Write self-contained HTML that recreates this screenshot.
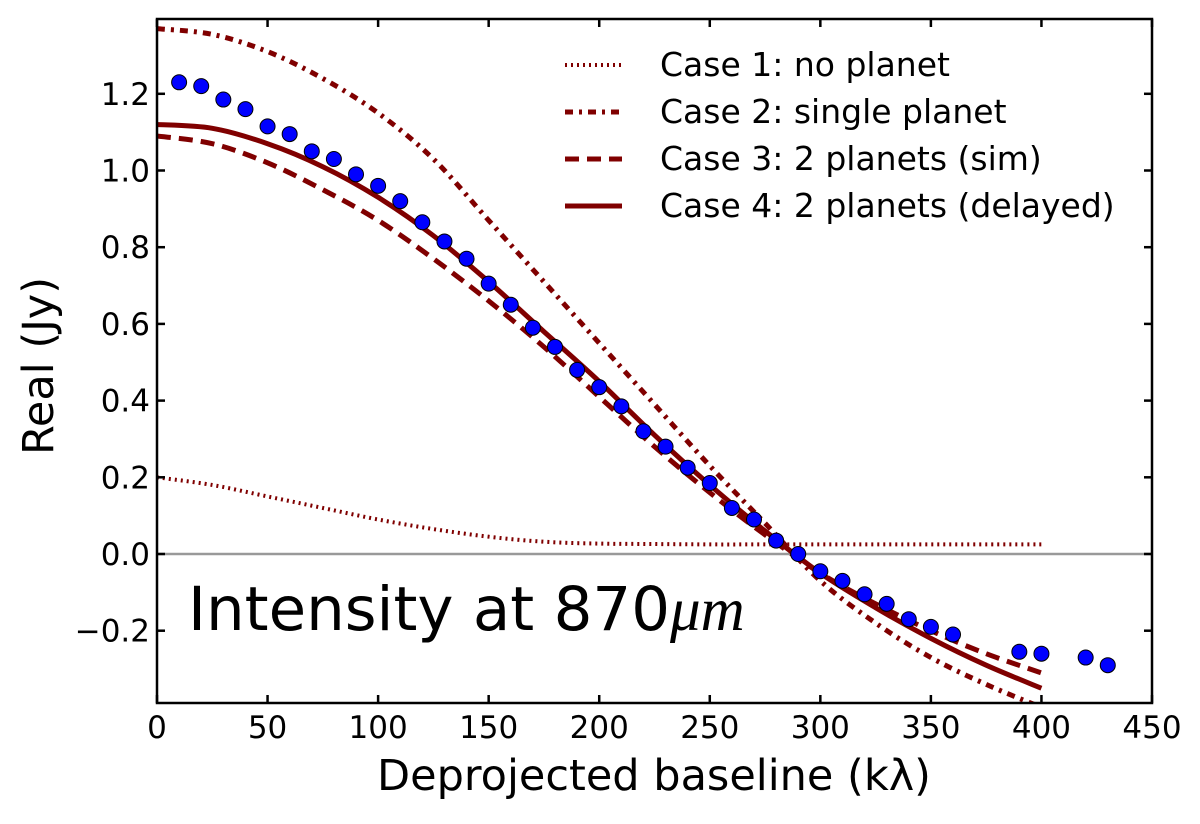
<!DOCTYPE html>
<html><head><meta charset="utf-8"><style>
body{margin:0;background:#fff}
svg text{font-family:"DejaVu Sans","Liberation Sans",sans-serif}
</style></head><body>
<svg id="chart" width="1200" height="819" xmlns="http://www.w3.org/2000/svg">
<g id="plot"></g>
<text x="654" y="790" font-size="43" text-anchor="middle">Deprojected baseline (kλ)</text>
<text transform="translate(53,366) rotate(-90)" font-size="43" text-anchor="middle">Real (Jy)</text>
<text x="188" y="630" font-size="61">Intensity at 870<tspan font-style="italic" font-family="Liberation Serif, serif">μm</tspan></text>
</svg>
<script>
const xTicks=[0,50,100,150,200,250,300,350,400,450];
const yTicks=[-0.2,0.0,0.2,0.4,0.6,0.8,1.0,1.2];
const curveX=[0,25,50,75,100,125,150,175,200,225,250,275,300,325,350,375,400];
const case1=[0.20,0.18,0.15,0.12,0.09,0.065,0.045,0.032,0.027,0.026,0.025,0.025,0.025,0.025,0.025,0.025,0.025];
const case2=[1.37,1.355,1.31,1.24,1.15,1.03,0.87,0.71,0.55,0.39,0.23,0.08,-0.07,-0.18,-0.27,-0.34,-0.40];
const case3=[1.09,1.07,1.02,0.95,0.87,0.77,0.66,0.54,0.41,0.28,0.16,0.05,-0.05,-0.13,-0.20,-0.26,-0.31];
const case4=[1.12,1.11,1.07,1.01,0.93,0.83,0.71,0.58,0.45,0.31,0.18,0.06,-0.05,-0.14,-0.22,-0.29,-0.35];
const obsX=[10,20,30,40,50,60,70,80,90,100,110,120,130,140,150,160,170,180,190,200,210,220,230,240,250,260,270,280,290,300,310,320,330,340,350,360,390,400,420,430];
const obsY=[1.23,1.22,1.185,1.16,1.115,1.095,1.05,1.03,0.99,0.96,0.92,0.865,0.815,0.77,0.705,0.65,0.59,0.54,0.48,0.435,0.385,0.32,0.28,0.225,0.185,0.12,0.09,0.035,0.0,-0.045,-0.07,-0.105,-0.13,-0.17,-0.19,-0.21,-0.255,-0.26,-0.27,-0.29];
const X0=157,X1=1152,YT=19,YB=703;
const xs=v=>X0+(v/450)*(X1-X0);
const ys=v=>554-383.5*v;
const NS='http://www.w3.org/2000/svg';
const g=document.getElementById('plot');
function mk(t,a,p){const e=document.createElementNS(NS,t);for(const k in a)e.setAttribute(k,a[k]);(p||g).appendChild(e);return e;}
function smooth(pts){let d='M'+pts[0][0].toFixed(1)+' '+pts[0][1].toFixed(1);
 for(let i=0;i<pts.length-1;i++){const p0=pts[Math.max(0,i-1)],p1=pts[i],p2=pts[i+1],p3=pts[Math.min(pts.length-1,i+2)];
  const c1x=p1[0]+(p2[0]-p0[0])/6,c1y=p1[1]+(p2[1]-p0[1])/6,c2x=p2[0]-(p3[0]-p1[0])/6,c2y=p2[1]-(p3[1]-p1[1])/6;
  d+=' C'+c1x.toFixed(1)+' '+c1y.toFixed(1)+' '+c2x.toFixed(1)+' '+c2y.toFixed(1)+' '+p2[0].toFixed(1)+' '+p2[1].toFixed(1);}
 return d;}
const clip=mk('clipPath',{id:'cp'});mk('rect',{x:X0,y:YT,width:X1-X0,height:YB-YT},clip);
const zl=mk('line',{x1:X0,x2:X1,y1:ys(0),y2:ys(0),stroke:'#999','stroke-width':2.5});


const styles=[[case1,'2 4',4],[case2,'8 6 3 6',5],[case3,'14 8',5],[case4,'',5]];
const names=['case1-line','case2-line','case3-line','case4-line'];
styles.forEach((s,i)=>{
 const pts=curveX.map((x,j)=>[xs(x),ys(s[0][j])]);
 const p=mk('path',{d:smooth(pts),fill:'none',stroke:'#800000','stroke-width':s[2],'stroke-dasharray':s[1],'clip-path':'url(#cp)'});
 
 
});
obsX.forEach((x,i)=>{
 const c=mk('circle',{cx:xs(x),cy:ys(obsY[i]),r:7.5,fill:'#0000ff',stroke:'#000','stroke-width':1});
 
 
});
const fr=mk('rect',{x:X0,y:YT,width:X1-X0,height:YB-YT,fill:'none',stroke:'#000','stroke-width':2.5});


xTicks.forEach(v=>{
 mk('line',{x1:xs(v),x2:xs(v),y1:YB,y2:YB-8,stroke:'#000','stroke-width':2.5});
 mk('line',{x1:xs(v),x2:xs(v),y1:YT,y2:YT+8,stroke:'#000','stroke-width':2.5});
 const t=mk('text',{x:xs(v),y:738,'font-size':31,'text-anchor':'middle'});t.textContent=v;
 
 
});
yTicks.forEach(v=>{
 mk('line',{x1:X0,x2:X0+8,y1:ys(v),y2:ys(v),stroke:'#000','stroke-width':2.5});
 mk('line',{x1:X1,x2:X1-8,y1:ys(v),y2:ys(v),stroke:'#000','stroke-width':2.5});
 const t=mk('text',{x:150,y:ys(v)+11,'font-size':31,'text-anchor':'end'});t.textContent=(v<0?'\u2212':'')+Math.abs(v).toFixed(1);
 
 
});
const legend=['Case 1: no planet','Case 2: single planet','Case 3: 2 planets (sim)','Case 4: 2 planets (delayed)'];
legend.forEach((s,i)=>{
 const y=65+i*47;
 const l=mk('line',{x1:565,x2:622,y1:y,y2:y,stroke:'#800000','stroke-width':styles[i][2],'stroke-dasharray':styles[i][1]});
 
 
 const t=mk('text',{x:660,y:y+11,'font-size':33});t.textContent=s;
 
 
});
</script>
</body></html>
